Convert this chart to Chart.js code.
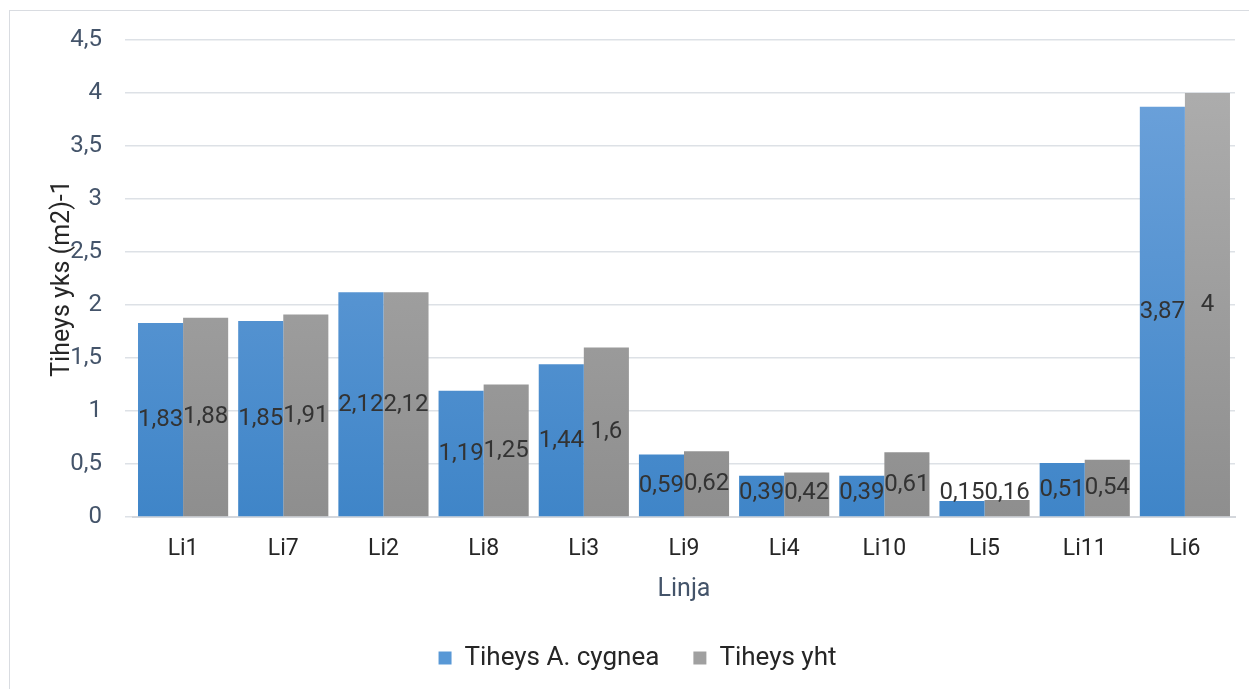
<!DOCTYPE html>
<html>
<head>
<meta charset="utf-8">
<script src="https://cdn.jsdelivr.net/npm/chart.js@4"></script>
<style>
  html, body { margin: 0; padding: 0; background: #fff; }
  #wrap { position: relative; width: 1249px; height: 689px; }
</style>
</head>
<body>
<div id="wrap"><canvas id="chart"></canvas></div>
<script>
const linjat = ["Li1", "Li7", "Li2", "Li8", "Li3", "Li9", "Li4", "Li10", "Li5", "Li11", "Li6"];
const tiheysCygnea = [1.83, 1.85, 2.12, 1.19, 1.44, 0.59, 0.39, 0.39, 0.15, 0.51, 3.87];
const tiheysYht = [1.88, 1.91, 2.12, 1.25, 1.6, 0.62, 0.42, 0.61, 0.16, 0.54, 4];

const fmt = v => String(v).replace(".", ",");

function gradient(ctx, top, bottom) {
    const area = ctx.chart.chartArea;
    if (!area) return bottom;
    const g = ctx.chart.ctx.createLinearGradient(0, area.top, 0, area.bottom);
    g.addColorStop(0, top);
    g.addColorStop(1, bottom);
    return g;
}

// frame round the whole chart, legend nudged a bit right
const frame = {
    id: "frame",
    afterLayout(chart) {
        if (chart.legend) {
            chart.legend.left += 15;
            chart.legend.right += 15;
        }
    },
    beforeDraw(chart) {
        const c = chart.ctx;
        c.save();
        c.fillStyle = "#fff";
        c.fillRect(0, 0, chart.width, chart.height);
        c.strokeStyle = "#d9dce1";
        c.lineWidth = 1;
        c.strokeRect(9.5, 10.5, chart.width, chart.height);
        c.restore();
    }
};

// value labels in the middle of each bar
const barLabels = {
    id: "barLabels",
    afterDatasetsDraw(chart) {
        const c = chart.ctx;
        const zero = chart.scales.y.getPixelForValue(0);
        c.save();
        c.font = "24px Roboto";
        c.fillStyle = "#333";
        c.textAlign = "center";
        c.textBaseline = "middle";
        chart.data.datasets.forEach((ds, i) => {
            chart.getDatasetMeta(i).data.forEach((bar, j) => {
                let y = (bar.y + zero) / 2;
                y = Math.min(y, zero - 24);
                c.fillText(fmt(ds.data[j]), bar.x, y);
            });
        });
        c.restore();
    }
};

new Chart(document.getElementById("chart"), {
    type: "bar",
    data: {
        labels: linjat,
        datasets: [
            {
                label: "Tiheys A. cygnea",
                data: tiheysCygnea,
                backgroundColor: ctx => gradient(ctx, "#70a4dc", "#3f85c8")
            },
            {
                label: "Tiheys yht",
                data: tiheysYht,
                backgroundColor: ctx => gradient(ctx, "#b0b0b0", "#8e8e8e")
            }
        ]
    },
    options: {
        responsive: true,
        maintainAspectRatio: false,
        animation: false,
        layout: { padding: { top: 40, right: 14, left: 10, bottom: 8 } },
        datasets: {
            bar: { categoryPercentage: 0.9, barPercentage: 1.0 }
        },
        plugins: {
            legend: {
                position: "bottom",
                maxHeight: 70,
                labels: {
                    font: { family: "Roboto", size: 26 },
                    color: "#262626",
                    boxWidth: 13,
                    boxHeight: 13,
                    padding: 34,
                    generateLabels(chart) {
                        const fills = ["#5898d6", "#a0a0a0"];
                        return chart.data.datasets.map((ds, i) => ({
                            text: ds.label,
                            fillStyle: fills[i],
                            strokeStyle: fills[i],
                            lineWidth: 0,
                            datasetIndex: i,
                            fontColor: "#262626"
                        }));
                    }
                }
            },
            tooltip: { enabled: false }
        },
        scales: {
            x: {
                grid: { display: false },
                border: { color: "#d4d7dc", width: 2 },
                afterFit(scale) { scale.height = 94; },
                ticks: {
                    font: { family: "Roboto", size: 23 },
                    color: "#262626",
                    padding: 10
                },
                title: {
                    display: true,
                    text: "Linja",
                    font: { family: "Roboto", size: 25 },
                    color: "#44546a",
                    padding: { top: 0, bottom: 6 }
                }
            },
            y: {
                min: 0,
                max: 4.5,
                grid: { color: "#dde1e6", lineWidth: 1.5 },
                border: { display: false },
                afterFit(scale) { scale.width = 123; },
                ticks: {
                    stepSize: 0.5,
                    font: { family: "Roboto", size: 24 },
                    color: "#44546a",
                    padding: 23,
                    callback: v => fmt(v)
                },
                title: {
                    display: true,
                    text: "Tiheys yks (m2)-1",
                    font: { family: "Roboto", size: 25 },
                    color: "#262626",
                    padding: { top: 38, bottom: 0 }
                }
            }
        }
    },
    plugins: [frame, barLabels]
});
</script>
</body>
</html>
